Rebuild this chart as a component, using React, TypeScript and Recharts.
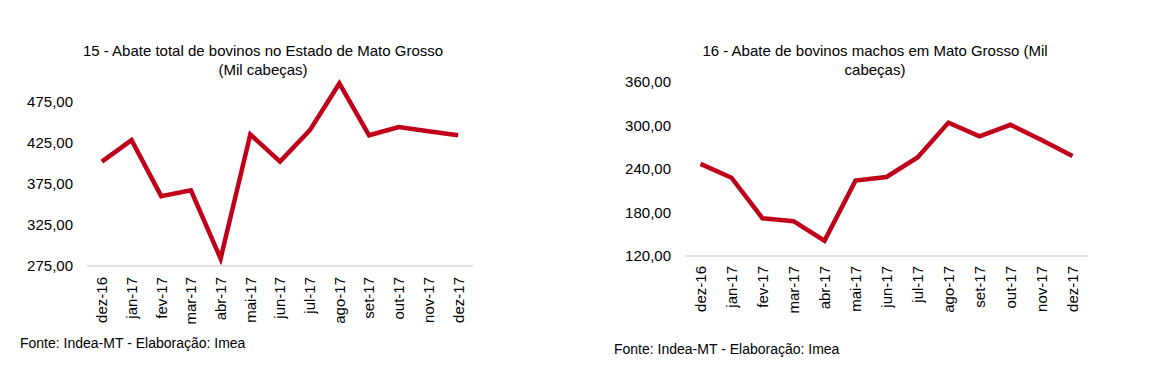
import React from "react";
import { LineChart, Line, XAxis, YAxis } from "recharts";

const months = [
  "dez-16", "jan-17", "fev-17", "mar-17", "abr-17", "mai-17", "jun-17",
  "jul-17", "ago-17", "set-17", "out-17", "nov-17", "dez-17",
];
const abateTotal = [402, 428, 360, 367, 284, 435, 402, 440, 497, 434, 444, 439, 434];
const abateMachos = [247, 228, 172, 168, 141, 224, 229, 256, 304, 285, 301, 280, 258];
const ticksTotal = [275, 325, 375, 425, 475];
const ticksMachos = [120, 180, 240, 300, 360];

const RED = "#C0001A";
const FONT = "'Liberation Sans', Arial, Helvetica, sans-serif";

const fmt = (v: number) => v.toFixed(2).replace(".", ",");

function MonthTick(props: any) {
  const { x, y, payload, offset } = props;
  return (
    <g transform={`translate(${x},${y + offset})`}>
      <text
        transform="rotate(-90)"
        textAnchor="end"
        dy="0.36em"
        fill="#000"
        fontSize={15}
        fontFamily={FONT}
      >
        {payload.value}
      </text>
    </g>
  );
}

interface PanelProps {
  values: number[];
  ticks: number[];
  domain: [number, number];
  width: number;
  yWidth: number;
  top: number;
  right: number;
  xHeight: number;
  labelOffset: number;
}

function Panel({ values, ticks, domain, width, yWidth, top, right, xHeight, labelOffset }: PanelProps) {
  const data = months.map((m, i) => ({ name: m, value: values[i] }));
  const band = (width - yWidth - right) / months.length / 2;
  return (
    <LineChart width={width} height={387} data={data} margin={{ top, right, bottom: 0, left: 0 }}>
      <XAxis
        dataKey="name"
        interval={0}
        height={xHeight}
        padding={{ left: band, right: band }}
        axisLine={{ stroke: "#d9d9d9", strokeWidth: 1.5 }}
        tickLine={false}
        tickSize={0}
        tickMargin={0}
        tick={<MonthTick offset={labelOffset} />}
      />
      <YAxis
        domain={domain}
        ticks={ticks}
        width={yWidth}
        axisLine={false}
        tickLine={false}
        tickSize={0}
        tickMargin={14}
        tickFormatter={fmt}
        tick={{ fill: "#000", fontSize: 15, fontFamily: FONT }}
      />
      <Line
        dataKey="value"
        stroke={RED}
        strokeWidth={4.5}
        dot={false}
        type="linear"
        isAnimationActive={false}
      />
    </LineChart>
  );
}

const textStyle: React.CSSProperties = {
  position: "absolute",
  fontFamily: FONT,
  color: "#000",
  whiteSpace: "nowrap",
};

export default function App() {
  return (
    <div
      style={{
        position: "absolute",
        left: 0,
        top: 0,
        width: 1151,
        height: 387,
        background: "#fff",
        overflow: "hidden",
      }}
    >
      <div style={{ position: "absolute", left: 0, top: 0 }}>
        <Panel
          values={abateTotal}
          ticks={ticksTotal}
          domain={[275, 500]}
          width={560}
          yWidth={87}
          top={81}
          right={87}
          xHeight={121}
          labelOffset={11}
        />
      </div>
      <div style={{ position: "absolute", left: 590, top: 0 }}>
        <Panel
          values={abateMachos}
          ticks={ticksMachos}
          domain={[120, 360]}
          width={561}
          yWidth={95}
          top={82}
          right={63}
          xHeight={131}
          labelOffset={10}
        />
      </div>

      <div style={{ ...textStyle, left: 0, width: 526, top: 41, fontSize: 15, lineHeight: "19px", textAlign: "center" }}>
        15 - Abate total de bovinos no Estado de Mato Grosso
        <br />
        (Mil cabeças)
      </div>
      <div style={{ ...textStyle, left: 675, width: 400, top: 41, fontSize: 15, lineHeight: "19px", textAlign: "center" }}>
        16 - Abate de bovinos machos em Mato Grosso (Mil
        <br />
        cabeças)
      </div>

      <div style={{ ...textStyle, left: 20, top: 335, fontSize: 14 }}>
        Fonte: Indea-MT - Elaboração: Imea
      </div>
      <div style={{ ...textStyle, left: 614, top: 341, fontSize: 14 }}>
        Fonte: Indea-MT - Elaboração: Imea
      </div>
    </div>
  );
}
